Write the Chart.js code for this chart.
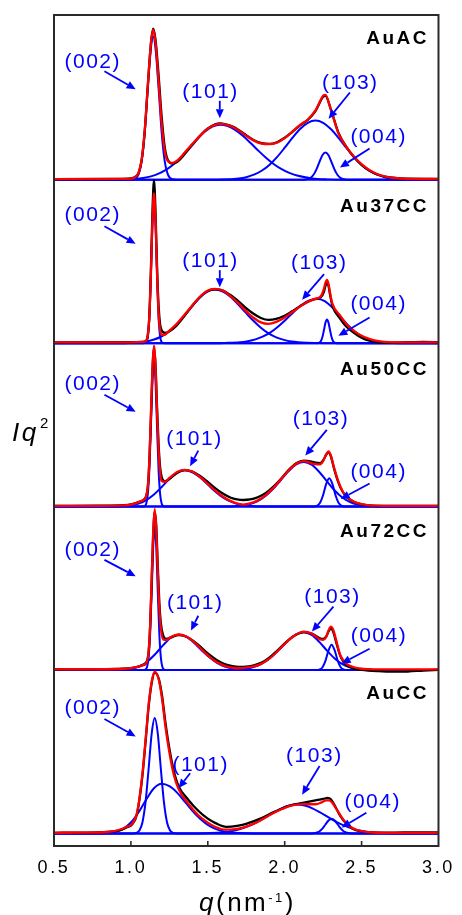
<!DOCTYPE html>
<html>
<head>
<meta charset="utf-8">
<script src="https://cdn.jsdelivr.net/npm/chart.js@4.4.0/dist/chart.umd.min.js"></script>
<style>
  html, body { margin: 0; padding: 0; background: #fff; }
  canvas { display: block; }
</style>
</head>
<body>
<canvas id="chart" width="462" height="915"></canvas>
<script>
// q axis ticks (nm^-1)
const qTicks = [0.5, 1.0, 1.5, 2.0, 2.5, 3.0];
const peakLabels = ['(002)', '(101)', '(103)', '(004)'];

// ---- AuAC ----  [q, Iq^2] (arb. units)
const auacExp = [[0.5,0.7],[0.95,0.9],[1.00,1.3],[1.03,3.2],[1.05,7],[1.07,20],[1.09,49],[1.11,95],[1.13,138],[1.145,153],[1.16,142],[1.18,106],[1.20,64],[1.22,33],[1.24,20],[1.27,16.5],[1.30,18],[1.35,26],[1.40,35.5],[1.45,44.5],[1.50,52],[1.58,57],[1.65,54.5],[1.70,50.5],[1.75,45],[1.80,40],[1.85,37],[1.90,36.3],[1.95,38],[2.00,42.5],[2.05,48.5],[2.10,55],[2.15,60.5],[2.20,69.5],[2.25,84],[2.265,85],[2.30,71.5],[2.35,47.5],[2.40,33.5],[2.45,23],[2.50,15],[2.55,9.3],[2.60,5.5],[2.65,3.2],[2.70,2],[2.80,1],[3.0,0.8]];
const auacFit = [[0.5,0.7],[0.95,0.8],[1.00,1.1],[1.03,3],[1.05,7],[1.07,20.5],[1.09,50],[1.11,96],[1.13,138],[1.145,152],[1.16,139],[1.18,100],[1.20,57],[1.22,29],[1.24,19],[1.27,17],[1.30,19.2],[1.35,27.5],[1.40,36.3],[1.45,44.7],[1.50,51.7],[1.58,56.5],[1.65,54.3],[1.70,50],[1.75,44.6],[1.80,39.6],[1.85,36.5],[1.90,36],[1.95,37.5],[2.00,42.1],[2.05,48.8],[2.10,55.5],[2.15,61],[2.20,70.2],[2.25,85],[2.265,86],[2.30,71],[2.35,46.7],[2.40,33.6],[2.45,23.6],[2.50,15.7],[2.55,9.8],[2.60,5.8],[2.65,3.3],[2.70,2],[2.80,0.9],[3.0,0.7]];
const auac002 = [[0.5,0],[1.00,0],[1.02,0.5],[1.05,5.4],[1.07,18.6],[1.09,48],[1.11,93],[1.13,133],[1.145,145],[1.16,133],[1.18,93],[1.20,48],[1.22,18.6],[1.24,5.4],[1.27,0.5],[1.30,0],[3.0,0]];
const auac101 = [[0.5,0],[0.93,0],[0.98,0.4],[1.03,0.8],[1.08,1.8],[1.13,3.4],[1.18,6.1],[1.23,10.2],[1.28,16],[1.33,23.4],[1.38,32],[1.43,40.8],[1.48,48.5],[1.53,53.8],[1.58,55.7],[1.63,54.3],[1.68,50.2],[1.73,44.2],[1.78,36.9],[1.83,29.2],[1.88,22],[1.93,15.7],[1.98,10.7],[2.03,6.9],[2.08,4.2],[2.18,1.3],[2.28,0.35],[2.38,0],[3.0,0]];
const auac103 = [[0.5,0],[1.50,0],[1.60,0.2],[1.70,1.3],[1.75,2.6],[1.80,5.1],[1.85,9.1],[1.90,15],[1.95,22.9],[2.00,32.4],[2.05,42.4],[2.10,51.4],[2.15,57.7],[2.20,60],[2.25,57.7],[2.30,51.4],[2.35,42.4],[2.40,32.4],[2.45,22.9],[2.50,15],[2.55,9.1],[2.60,5.1],[2.65,2.6],[2.70,1.3],[2.80,0.2],[2.90,0],[3.0,0]];
const auac004 = [[0.5,0],[2.11,0],[2.135,0.2],[2.165,1.6],[2.185,4.5],[2.205,10],[2.225,17.6],[2.245,24.7],[2.265,27.7],[2.285,24.7],[2.305,17.6],[2.325,10],[2.345,4.5],[2.365,1.6],[2.395,0.2],[2.42,0],[3.0,0]];

// ---- Au37CC ----
const au37Exp = [[0.5,0.7],[1.00,0.9],[1.08,1.3],[1.10,2.5],[1.11,8],[1.12,28],[1.13,74],[1.14,132],[1.15,165],[1.16,134],[1.17,78],[1.18,38],[1.19,19],[1.20,13],[1.22,10.5],[1.245,11.5],[1.295,17.5],[1.345,27],[1.395,37],[1.445,46],[1.495,52.5],[1.545,54.5],[1.595,53.5],[1.645,49],[1.695,43],[1.745,36],[1.795,30],[1.845,25.5],[1.895,23.5],[1.945,24.5],[1.995,27.5],[2.045,32],[2.095,37],[2.145,41.5],[2.195,44.5],[2.235,46.5],[2.255,52],[2.265,58],[2.275,61.5],[2.285,58],[2.295,49],[2.31,38],[2.36,25],[2.40,17],[2.45,10.5],[2.50,5.5],[2.55,2.5],[2.60,1],[2.70,0.5],[2.80,1],[2.90,1.3],[3.0,0.9]];
const au37Fit = [[0.5,0.7],[1.00,0.8],[1.08,1.3],[1.10,2.5],[1.11,8],[1.12,27],[1.13,70],[1.14,124],[1.15,151.7],[1.16,126],[1.17,72],[1.18,31],[1.19,13],[1.20,8.5],[1.22,8.5],[1.245,12],[1.295,19],[1.345,28],[1.395,37.5],[1.445,46.5],[1.495,52.8],[1.545,55],[1.595,53.5],[1.645,48],[1.695,41],[1.745,33],[1.795,26],[1.845,21],[1.895,19.5],[1.945,21.5],[1.995,25.5],[2.045,31],[2.095,36.5],[2.145,41.5],[2.195,44.8],[2.235,47.5],[2.255,55],[2.265,61],[2.275,64],[2.285,60],[2.295,51],[2.31,40],[2.36,28],[2.40,19.5],[2.45,12.5],[2.50,7.5],[2.55,4.3],[2.60,2.2],[2.65,1.2],[2.70,0.8],[3.0,0.7]];
const au37002 = [[0.5,0],[1.08,0],[1.09,0.1],[1.10,1.1],[1.11,6.5],[1.12,25.5],[1.13,67.8],[1.14,121.7],[1.15,148],[1.16,121.7],[1.17,67.8],[1.18,25.5],[1.19,6.5],[1.20,1.1],[1.21,0.1],[1.22,0],[3.0,0]];
const au37101 = [[0.5,0],[0.95,0],[0.995,0.3],[1.045,0.7],[1.095,1.6],[1.145,3.4],[1.195,6.5],[1.245,11.4],[1.295,18.4],[1.345,27.2],[1.395,36.8],[1.445,45.7],[1.495,52],[1.545,54.3],[1.595,52.4],[1.645,47.3],[1.695,39.7],[1.745,31.2],[1.795,22.9],[1.845,15.6],[1.895,9.9],[1.945,5.9],[1.995,3.3],[2.045,1.7],[2.145,0.4],[2.25,0],[3.0,0]];
const au37103 = [[0.5,0],[1.55,0],[1.61,0.2],[1.71,0.9],[1.76,2],[1.81,3.8],[1.86,6.8],[1.91,11.2],[1.96,17.2],[2.01,24.3],[2.06,31.8],[2.11,38.6],[2.16,43.3],[2.21,45],[2.26,42.6],[2.31,36],[2.36,27.3],[2.41,18.5],[2.46,11.2],[2.51,6.1],[2.56,3],[2.61,1.3],[2.71,0.2],[2.80,0],[3.0,0]];
const au37004 = [[0.5,0],[2.215,0],[2.225,0.5],[2.235,2],[2.245,6],[2.255,13],[2.265,20.6],[2.275,24],[2.285,20.6],[2.295,13],[2.305,6],[2.315,2],[2.325,0.5],[2.335,0],[3.0,0]];

// ---- Au50CC ----
const au50Exp = [[0.5,0.7],[0.80,0.9],[0.95,1.4],[1.00,2.2],[1.05,4.5],[1.09,8],[1.10,11],[1.11,20],[1.12,46],[1.13,90],[1.14,137],[1.15,160],[1.16,144],[1.17,101],[1.18,63],[1.19,40],[1.20,30],[1.22,25.5],[1.25,28],[1.30,34],[1.35,37],[1.40,35.5],[1.45,31],[1.50,25],[1.55,18.5],[1.60,13],[1.65,9],[1.70,7],[1.73,6.7],[1.775,7.2],[1.825,9.5],[1.875,13.5],[1.925,20],[1.975,28],[2.025,37],[2.075,44],[2.125,46.5],[2.175,45.5],[2.20,44.5],[2.23,44],[2.25,47],[2.27,52.5],[2.285,55],[2.30,51],[2.32,39],[2.35,24],[2.375,15.5],[2.40,10],[2.45,4.8],[2.50,2.2],[2.55,1.2],[2.60,0.8],[2.70,0.7],[3.0,0.7]];
const au50Fit = [[0.5,0.7],[0.80,0.8],[0.95,1.2],[1.00,2],[1.05,4.5],[1.09,8],[1.10,11],[1.11,20],[1.12,47],[1.13,92],[1.14,140],[1.15,163],[1.16,141],[1.17,96],[1.18,57],[1.19,35],[1.20,26],[1.22,25],[1.25,29],[1.30,35],[1.35,37.3],[1.40,35.3],[1.45,30],[1.50,23],[1.55,16],[1.60,10],[1.65,5.5],[1.70,2.8],[1.73,2],[1.775,3.2],[1.825,6.3],[1.875,11.4],[1.925,18.7],[1.975,27.6],[2.025,36.6],[2.075,43.5],[2.125,46],[2.175,44],[2.20,43],[2.23,42.7],[2.25,46],[2.27,53],[2.285,56],[2.30,52],[2.32,40],[2.35,25],[2.375,16],[2.40,10.5],[2.45,5],[2.50,2.4],[2.55,1.3],[2.60,0.9],[2.70,0.7],[3.0,0.7]];
const au50002 = [[0.5,0],[1.08,0],[1.09,0.6],[1.10,3.1],[1.11,12.7],[1.12,37.3],[1.13,80.4],[1.14,127.7],[1.15,149],[1.16,127.7],[1.17,80.4],[1.18,37.3],[1.19,12.7],[1.20,3.1],[1.21,0.6],[1.22,0],[3.0,0]];
const au50101 = [[0.5,0],[0.90,0],[0.95,0.5],[1.00,1.3],[1.05,3.1],[1.10,6.6],[1.15,12.3],[1.20,19.8],[1.25,27.9],[1.30,34.3],[1.35,36.7],[1.40,34.7],[1.45,29.4],[1.50,22.3],[1.55,15.1],[1.60,9.1],[1.65,5],[1.70,2.4],[1.75,1.1],[1.80,0.4],[1.85,0],[3.0,0]];
const au50103 = [[0.5,0],[1.625,0],[1.675,0.4],[1.725,1.1],[1.775,2.7],[1.825,5.6],[1.875,10.7],[1.925,18],[1.975,26.9],[2.025,35.9],[2.075,42.8],[2.125,45.3],[2.175,42.5],[2.225,35.1],[2.275,25.5],[2.325,16.3],[2.375,9.2],[2.425,4.6],[2.475,2],[2.525,0.8],[2.625,0],[3.0,0]];
const au50004 = [[0.5,0],[2.17,0],[2.19,0.1],[2.21,0.8],[2.23,3.9],[2.25,11.8],[2.27,23],[2.29,28.7],[2.31,23],[2.33,11.8],[2.35,3.9],[2.37,0.8],[2.39,0.1],[2.41,0],[3.0,0]];

// ---- Au72CC ----
const au72Exp = [[0.5,0.7],[0.80,0.9],[0.95,1.4],[1.00,2],[1.05,3.5],[1.08,5],[1.10,7.5],[1.115,18],[1.125,44],[1.135,90],[1.145,137],[1.155,160],[1.165,146],[1.175,105],[1.185,68],[1.195,47],[1.21,35],[1.23,31.5],[1.26,33],[1.31,35.5],[1.36,34],[1.41,29],[1.46,22.5],[1.51,15.5],[1.56,10],[1.61,6],[1.66,4],[1.70,3.2],[1.75,3.5],[1.80,4.8],[1.85,7.5],[1.90,12.5],[1.95,19.5],[2.00,27],[2.05,33.5],[2.10,37.5],[2.125,38.5],[2.175,37],[2.225,32.5],[2.25,31.5],[2.27,34],[2.285,39],[2.30,42],[2.315,39],[2.335,28],[2.36,15],[2.38,9],[2.40,5],[2.45,1.5],[2.50,0.3],[2.60,-1],[2.70,-1.7],[2.80,-1.5],[2.90,-0.5],[3.0,0.3]];
const au72Fit = [[0.5,0.7],[0.80,0.8],[0.95,1.3],[1.00,2],[1.05,3.5],[1.08,5],[1.10,7],[1.115,18],[1.125,45],[1.135,92],[1.145,140],[1.155,163],[1.165,142],[1.175,98],[1.185,62],[1.195,42],[1.21,31],[1.23,30.5],[1.26,33.5],[1.31,36],[1.36,34],[1.41,28.5],[1.46,21],[1.51,13.5],[1.56,7.8],[1.61,4.2],[1.66,2.3],[1.70,1.8],[1.75,2.5],[1.80,3.8],[1.85,6.5],[1.90,11.5],[1.95,18.5],[2.00,26.5],[2.05,33.5],[2.10,38],[2.125,39],[2.175,37],[2.225,31.5],[2.25,30.5],[2.27,33.5],[2.285,40],[2.30,44],[2.315,41],[2.335,30],[2.36,15.5],[2.38,10],[2.40,6.5],[2.45,2.8],[2.50,1.3],[2.55,0.9],[2.60,0.7],[3.0,0.7]];
const au72002 = [[0.5,0],[1.085,0],[1.095,0.6],[1.105,3],[1.115,12.3],[1.125,36.3],[1.135,78.3],[1.145,124.3],[1.155,145],[1.165,124.3],[1.175,78.3],[1.185,36.3],[1.195,12.3],[1.205,3],[1.215,0.6],[1.225,0],[3.0,0]];
const au72101 = [[0.5,0],[0.91,0],[0.96,0.5],[1.01,1.6],[1.06,4.1],[1.11,8.9],[1.16,16.4],[1.21,25.2],[1.26,32.7],[1.31,35.7],[1.36,33.5],[1.41,27.7],[1.46,20.1],[1.51,12.9],[1.56,7.2],[1.61,3.6],[1.66,1.6],[1.71,0.6],[1.81,0],[3.0,0]];
const au72103 = [[0.5,0],[1.625,0],[1.725,0.8],[1.775,2.1],[1.825,4.5],[1.875,8.7],[1.925,14.8],[1.975,22.4],[2.025,30.2],[2.075,36.1],[2.125,38.3],[2.175,35.6],[2.225,28.5],[2.275,19.7],[2.325,11.7],[2.375,6],[2.425,2.7],[2.475,1],[2.525,0.3],[2.625,0],[3.0,0]];
const au72004 = [[0.5,0],[2.205,0],[2.225,0.4],[2.245,2.6],[2.265,9.3],[2.285,19.9],[2.305,25.7],[2.325,19.9],[2.345,9.3],[2.365,2.6],[2.385,0.4],[2.405,0],[3.0,0]];

// ---- AuCC ----
const auccExp = [[0.5,0.7],[0.70,0.9],[0.85,1.7],[0.92,2.8],[0.97,6],[1.01,9.5],[1.04,20],[1.074,57],[1.096,94],[1.117,131],[1.138,155],[1.155,163],[1.181,157],[1.203,139],[1.224,113],[1.246,90],[1.278,64],[1.31,48],[1.374,34],[1.438,23],[1.50,15],[1.55,10.5],[1.62,6.7],[1.70,8],[1.75,9.8],[1.80,12.5],[1.85,15.5],[1.90,19.5],[1.95,23],[2.00,26.5],[2.05,29],[2.10,30.5],[2.15,32],[2.20,33.5],[2.25,35],[2.28,36],[2.30,34.5],[2.33,27],[2.36,18],[2.40,10],[2.44,5],[2.48,2.5],[2.55,1.2],[2.70,0.9],[2.85,1.2],[3.0,1.2]];
const auccFit = [[0.5,0.7],[0.70,0.8],[0.85,1.5],[0.92,3.5],[0.97,6.5],[1.01,10],[1.04,21],[1.074,59],[1.096,96],[1.117,133],[1.138,156],[1.155,164],[1.181,156],[1.203,136],[1.224,109],[1.246,86],[1.278,60],[1.31,45],[1.374,30],[1.438,18.5],[1.50,11],[1.55,6.5],[1.613,3.8],[1.65,3.9],[1.70,4.8],[1.75,7],[1.80,10],[1.85,14],[1.90,18.5],[1.95,22.5],[2.00,26],[2.05,28.5],[2.08,29.3],[2.12,29.8],[2.16,29.6],[2.20,29.6],[2.24,31.5],[2.27,33.5],[2.29,33.5],[2.31,31],[2.34,24],[2.37,16.5],[2.40,10.5],[2.43,6.5],[2.47,3.5],[2.52,1.8],[2.57,1],[2.65,0.7],[3.0,0.7]];
const auccBlue002 = [[0.5,0],[1.015,0],[1.035,0.6],[1.055,3],[1.075,11.2],[1.095,31.4],[1.115,65],[1.135,101],[1.155,117],[1.175,101],[1.195,65],[1.215,31.4],[1.235,11.2],[1.255,3],[1.275,0.6],[1.295,0],[3.0,0]];
const auccBlue101 = [[0.5,0],[0.80,0],[0.85,0.5],[0.90,1.7],[0.95,4.7],[1.00,11.1],[1.05,21.5],[1.10,34.5],[1.15,45.8],[1.20,50.3],[1.25,47.9],[1.30,41.4],[1.35,32.4],[1.40,23],[1.45,14.9],[1.50,8.7],[1.55,4.6],[1.60,2.2],[1.65,1],[1.70,0.4],[1.80,0],[3.0,0]];
const auccBlue103 = [[0.5,0],[1.40,0],[1.48,0.2],[1.58,0.9],[1.63,1.8],[1.68,3.2],[1.73,5.4],[1.78,8.4],[1.83,12.3],[1.88,16.8],[1.93,21.4],[1.98,25.5],[2.03,28.3],[2.08,29.3],[2.13,28.3],[2.18,25.5],[2.23,21.4],[2.28,16.8],[2.33,12.3],[2.38,8.4],[2.43,5.4],[2.48,3.2],[2.53,1.8],[2.58,0.9],[2.68,0.2],[2.78,0],[3.0,0]];
const auccBlue004 = [[0.5,0],[2.165,0],[2.185,0.2],[2.205,0.7],[2.225,2],[2.245,4.9],[2.265,9.1],[2.285,13.2],[2.305,15],[2.325,13.2],[2.345,9.1],[2.365,4.9],[2.385,2],[2.405,0.7],[2.425,0.2],[2.445,0],[3.0,0]];

// annotation anchors, in data units of each panel: [label, textQ, textI, arrowFromQ, fromI, arrowToQ, toI]
const auacNotes = [['(002)',0.747,113.4,0.828,110,1.031,91.7],['(101)',1.513,82.4,1.578,80,1.578,62.4],['(103)',2.422,91.7,2.424,88.4,2.285,61.7],['(004)',2.606,36.7,2.552,31.7,2.359,12.4]];
const au37Notes = [['(002)',0.747,123.4,0.828,118.4,1.031,100.7],['(101)',1.513,76.7,1.578,74,1.578,56.7],['(103)',2.220,75,2.256,70,2.113,44],['(004)',2.606,33.4,2.552,26,2.349,7.4]];
const au50Notes = [['(002)',0.747,117.7,0.828,113.4,1.031,96],['(101)',1.408,62.7,1.438,56.7,1.385,41],['(103)',2.231,82.7,2.274,77.7,2.134,51.7],['(004)',2.606,29.4,2.552,23.4,2.364,7.7]];
const au72Notes = [['(002)',0.747,115.6,0.828,111.6,1.031,95],['(101)',1.413,61.6,1.438,55,1.391,40],['(103)',2.306,68.3,2.317,64.3,2.177,39],['(004)',2.608,28.3,2.552,21.6,2.370,6.6]];
const auccNotes = [['(002)',0.747,121,0.828,116,1.031,98.3],['(101)',1.449,63.6,1.385,61,1.310,46],['(103)',2.188,72.6,2.227,68.3,2.113,39.3],['(004)',2.567,26,2.531,21,2.370,6]];

// panels top to bottom
const panels = [
  {name: 'AuAC', exp: auacExp, fit: auacFit, peaks: [auac002, auac101, auac103, auac004], notes: auacNotes, nameAt: 138},
  {name: 'Au37CC', exp: au37Exp, fit: au37Fit, peaks: [au37002, au37101, au37103, au37004], notes: au37Notes, nameAt: 133},
  {name: 'Au50CC', exp: au50Exp, fit: au50Fit, peaks: [au50002, au50101, au50103, au50004], notes: au50Notes, nameAt: 133},
  {name: 'Au72CC', exp: au72Exp, fit: au72Fit, peaks: [au72002, au72101, au72103, au72004], notes: au72Notes, nameAt: 135},
  {name: 'AuCC', exp: auccExp, fit: auccFit, peaks: [auccBlue002, auccBlue101, auccBlue103, auccBlue004], notes: auccNotes, nameAt: 136},
];

// vertical stacking of the panels (offset added to every curve of a panel)
const panelBase = 12.7;
const panelStep = 165.6;
const panelShift = i => panelBase + (panels.length - 1 - i) * panelStep;

const FONT = "'Liberation Sans', Arial, sans-serif";
const RED = '#ff0000', BLUE = '#0000ff';

const datasets = [];
panels.forEach((p, i) => {
  const shift = panelShift(i);
  const pts = arr => arr.map(([q, v]) => ({x: q, y: v + shift}));
  datasets.push({label: p.name + ' fit', data: pts(p.fit), borderColor: RED, borderWidth: 2.3, order: 1});
  datasets.push({label: p.name + ' data', data: pts(p.exp), borderColor: '#000', borderWidth: 2.3, order: 2});
  p.peaks.forEach((pk, j) => {
    datasets.push({label: p.name + ' ' + peakLabels[j], data: pts(pk), borderColor: BLUE, borderWidth: 2, order: 3});
  });
});

function spacedWidth(ctx, text, spacing) {
  ctx.letterSpacing = '0px';
  return ctx.measureText(text).width + spacing * (text.length - 1);
}
function drawSpaced(ctx, text, x, y, spacing) {
  ctx.letterSpacing = spacing + 'px';
  ctx.textAlign = 'left';
  ctx.fillText(text, x, y);
}

function drawArrow(ctx, x1, y1, x2, y2) {
  const ang = Math.atan2(y2 - y1, x2 - x1);
  const len = 9, half = 4;
  const bx = x2 - len * Math.cos(ang), by = y2 - len * Math.sin(ang);
  ctx.beginPath();
  ctx.moveTo(x1, y1);
  ctx.lineTo(bx, by);
  ctx.stroke();
  ctx.beginPath();
  ctx.moveTo(x2, y2);
  ctx.lineTo(bx + half * Math.sin(ang), by - half * Math.cos(ang));
  ctx.lineTo(bx - half * Math.sin(ang), by + half * Math.cos(ang));
  ctx.closePath();
  ctx.fill();
}

const decor = {
  id: 'decor',
  beforeDraw(chart) {
    chart.ctx.letterSpacing = '2.6px';
  },
  afterDraw(chart) {
    const {ctx, chartArea: a, scales: {x, y}} = chart;
    ctx.save();
    ctx.textBaseline = 'alphabetic';

    // frame + inward ticks
    ctx.strokeStyle = '#2a2a2a';
    ctx.lineWidth = 2;
    ctx.strokeRect(a.left, a.top, a.right - a.left, a.bottom - a.top);
    ctx.lineWidth = 1.6;
    qTicks.slice(1, -1).forEach(v => {
      const px = x.getPixelForValue(v);
      ctx.beginPath();
      ctx.moveTo(px, a.bottom);
      ctx.lineTo(px, a.bottom - 5);
      ctx.stroke();
    });

    panels.forEach((p, i) => {
      const shift = panelShift(i);
      const py = v => y.getPixelForValue(v + shift);
      // sample name
      ctx.fillStyle = '#000';
      ctx.font = 'bold 19px ' + FONT;
      const nw = spacedWidth(ctx, p.name, 2.5);
      drawSpaced(ctx, p.name, a.right - 12 - nw, py(p.nameAt), 2.5);
      // peak annotations
      ctx.fillStyle = BLUE;
      ctx.strokeStyle = BLUE;
      ctx.lineWidth = 1.8;
      p.notes.forEach(([t, tq, ti, fq, fi, toq, toi]) => {
        ctx.font = '21px ' + FONT;
        const w = spacedWidth(ctx, t, 1.5);
        drawSpaced(ctx, t, x.getPixelForValue(tq) - w / 2, py(ti), 1.5);
        drawArrow(ctx, x.getPixelForValue(fq), py(fi), x.getPixelForValue(toq), py(toi));
      });
    });

    // y title  Iq^2
    ctx.fillStyle = '#000';
    const ym = (a.top + a.bottom) / 2;
    ctx.font = 'italic 26px ' + FONT;
    drawSpaced(ctx, 'Iq', a.left - 42, ym + 10, 2.5);
    ctx.font = '15px ' + FONT;
    drawSpaced(ctx, '2', a.left - 14, ym - 3, 0);

    // x title  q(nm^-1)
    const parts = [
      {t: 'q', f: 'italic 26px ' + FONT, dy: 0},
      {t: '(nm', f: '26px ' + FONT, dy: 0},
      {t: '-1', f: '13px ' + FONT, dy: -9.5},
      {t: ')', f: '26px ' + FONT, dy: 0},
    ];
    const sp = 2.5;
    let total = 0;
    parts.forEach(pt => { ctx.font = pt.f; pt.w = spacedWidth(ctx, pt.t, sp); total += pt.w + sp; });
    total -= sp;
    let cx = (a.left + a.right) / 2 - total / 2;
    const by = 911;
    parts.forEach(pt => {
      ctx.font = pt.f;
      drawSpaced(ctx, pt.t, cx, by + pt.dy, sp);
      cx += pt.w + sp;
    });

    ctx.restore();
  }
};

new Chart(document.getElementById('chart'), {
  type: 'line',
  data: {datasets},
  options: {
    responsive: false,
    animation: false,
    layout: {padding: {left: 54, right: 19, top: 15, bottom: 25.4}},
    plugins: {legend: {display: false}, tooltip: {enabled: false}},
    elements: {
      point: {radius: 0},
      line: {cubicInterpolationMode: 'monotone', fill: false},
    },
    scales: {
      x: {
        type: 'linear',
        min: 0.5,
        max: 3.0,
        grid: {display: false, drawTicks: false},
        border: {display: false},
        afterBuildTicks: axis => { axis.ticks = qTicks.map(v => ({value: v})); },
        ticks: {
          font: {family: FONT, size: 18},
          color: '#000',
          padding: 11,
          maxRotation: 0,
          autoSkip: false,
          callback: v => v.toFixed(1),
        },
      },
      y: {display: false, min: 0, max: 842},
    },
  },
  plugins: [decor],
});
</script>
</body>
</html>
